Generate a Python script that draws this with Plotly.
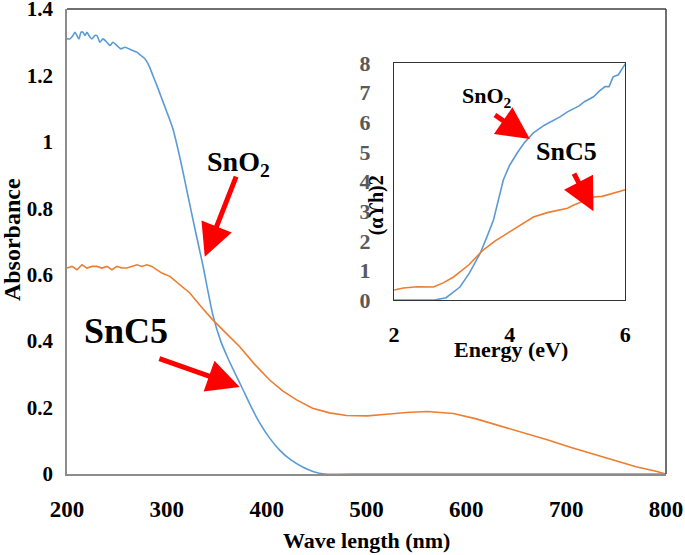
import plotly.graph_objects as go

# main panel: absorbance vs wavelength
sno2_wl = [200, 203, 206, 208, 210, 212, 214, 216, 218, 220, 222, 225, 228, 230,
           233, 236, 240, 243, 246, 250, 254, 258, 262, 266, 270, 274, 278, 282,
           286, 290, 295, 300, 306, 314, 321, 328, 336, 346, 354, 361, 368, 375,
           384, 393, 403, 413, 424, 436, 447, 458, 500, 600, 700, 800]
sno2_abs = [1.31, 1.31, 1.32, 1.33, 1.32, 1.31, 1.33, 1.33, 1.32, 1.33, 1.32, 1.31,
            1.32, 1.32, 1.30, 1.31, 1.30, 1.29, 1.30, 1.29, 1.28, 1.285, 1.28,
            1.275, 1.27, 1.26, 1.25, 1.23, 1.20, 1.17, 1.13, 1.09, 1.04, 0.94,
            0.84, 0.74, 0.63, 0.48, 0.40, 0.35, 0.305, 0.262, 0.205, 0.154, 0.108,
            0.072, 0.043, 0.021, 0.007, 0.0, 0.0, 0.0, 0.0, 0.0]

snc5_wl = [200, 205, 210, 215, 220, 225, 230, 235, 240, 245, 250, 255, 260, 265,
           270, 275, 280, 285, 290, 295, 303, 313, 323, 334, 346, 359, 373, 388,
           403, 416, 430, 446, 463, 480, 501, 520, 540, 561, 587, 610, 634, 657,
           681, 705, 725, 747, 770, 790, 800]
snc5_abs = [0.62, 0.625, 0.615, 0.63, 0.62, 0.625, 0.625, 0.62, 0.625, 0.615,
            0.625, 0.62, 0.62, 0.625, 0.63, 0.625, 0.63, 0.625, 0.615, 0.605,
            0.595, 0.57, 0.545, 0.505, 0.464, 0.425, 0.383, 0.33, 0.283, 0.25,
            0.223, 0.198, 0.184, 0.176, 0.175, 0.18, 0.185, 0.188, 0.182, 0.166,
            0.145, 0.125, 0.103, 0.08, 0.062, 0.042, 0.022, 0.008, 0.0]

# inset: Tauc plot
sno2_e = [2.0, 2.4, 2.7, 2.9, 3.14, 3.3, 3.49, 3.6, 3.72, 3.89, 4.0, 4.13, 4.25,
          4.41, 4.6, 4.87, 5.0, 5.1, 5.2, 5.3, 5.45, 5.55, 5.65, 5.72, 5.79,
          5.88, 5.95, 6.0]
sno2_tauc = [0.0, 0.0, 0.0, 0.08, 0.44, 0.9, 1.58, 2.1, 2.7, 4.05, 4.55, 4.96,
             5.3, 5.64, 5.9, 6.18, 6.35, 6.45, 6.55, 6.7, 6.86, 7.05, 7.2, 7.2,
             7.53, 7.6, 7.8, 7.97]

snc5_e = [2.0, 2.16, 2.4, 2.68, 2.85, 3.03, 3.3, 3.54, 3.75, 3.96, 4.2, 4.41,
          4.65, 4.87, 5.0, 5.1, 5.3, 5.45, 5.6, 5.7, 5.85, 6.0]
snc5_tauc = [0.34, 0.41, 0.45, 0.44, 0.58, 0.78, 1.2, 1.69, 2.0, 2.26, 2.55,
             2.8, 2.95, 3.04, 3.1, 3.2, 3.35, 3.48, 3.5, 3.55, 3.62, 3.72]

BLUE = "#5B9BD5"
ORANGE = "#ED7D31"
SERIF = "Liberation Serif, Times New Roman, serif"

fig = go.Figure()
fig.add_trace(go.Scatter(x=sno2_wl, y=sno2_abs, mode="lines",
                         line=dict(color=BLUE, width=1.6, shape="spline", smoothing=0.6)))
fig.add_trace(go.Scatter(x=snc5_wl, y=snc5_abs, mode="lines",
                         line=dict(color=ORANGE, width=1.6)))
fig.add_trace(go.Scatter(x=sno2_e, y=sno2_tauc, mode="lines", xaxis="x2", yaxis="y2",
                         line=dict(color=BLUE, width=1.6)))
fig.add_trace(go.Scatter(x=snc5_e, y=snc5_tauc, mode="lines", xaxis="x2", yaxis="y2",
                         line=dict(color=ORANGE, width=1.6)))

bold = dict(family=SERIF, weight="bold", color="black")
axis_common = dict(showgrid=False, zeroline=False, showline=True, ticks="",
                   automargin=False, ticklabeloverflow="allow")

fig.update_layout(
    width=685, height=555, showlegend=False,
    margin=dict(l=67, r=19, t=9, b=81),
    paper_bgcolor="white", plot_bgcolor="white",
    xaxis=dict(range=[200, 800], tickvals=[200, 300, 400, 500, 600, 700, 800],
               linecolor="#8c8c8c", linewidth=1.5, ticklabelstandoff=14,
               tickfont=dict(size=23, **bold), **axis_common),
    yaxis=dict(range=[0, 1.4], tickvals=[0, 0.2, 0.4, 0.6, 0.8, 1, 1.2, 1.4],
               ticktext=["0", "0.2", "0.4", "0.6", "0.8", "1", "1.2", "1.4"],
               linecolor="#8c8c8c", linewidth=1.5, ticklabelstandoff=8,
               tickfont=dict(size=21, **bold), **axis_common),
    xaxis2=dict(domain=[0.546, 0.932], anchor="y2", range=[2, 6], tickvals=[2, 4, 6],
                mirror=True, linecolor="#333333", linewidth=1.3, ticklabelstandoff=14,
                tickfont=dict(size=22, **bold), **axis_common),
    yaxis2=dict(domain=[0.374, 0.884], anchor="x2", range=[0, 8], dtick=1,
                mirror=True, linecolor="#333333", linewidth=1.3, ticklabelstandoff=18,
                tickfont=dict(size=22, family=SERIF, weight="bold", color="#595959"),
                **axis_common),
    shapes=[
        dict(type="line", xref="paper", yref="paper", x0=0, x1=1, y0=1, y1=1,
             line=dict(color="#404040", width=1.5)),
        dict(type="line", xref="paper", yref="paper", x0=1, x1=1, y0=0, y1=1,
             line=dict(color="#404040", width=1.5)),
    ],
)

def label(text, x, y, size, xref="x", yref="y", angle=0):
    fig.add_annotation(text=text, x=x, y=y, xref=xref, yref=yref, showarrow=False,
                       xanchor="center", yanchor="middle", textangle=angle,
                       font=dict(size=size, **bold))

def arrow(x0, y0, x1, y1, xref="x", yref="y"):
    fig.add_annotation(text="", x=x1, y=y1, ax=x0, ay=y0, xref=xref, yref=yref,
                       axref=xref, ayref=yref, showarrow=True, arrowhead=2,
                       arrowsize=1.3, arrowwidth=5, arrowcolor="#FF0000", standoff=0)

# main panel labels and arrows
label("SnO<sub>2</sub>", 372, 0.935, 28)
arrow(370, 0.90, 338, 0.654)
label("SnC5", 259, 0.431, 36)
arrow(291, 0.349, 373, 0.262)

# inset labels and arrows
label("SnO<sub>2</sub>", 3.61, 6.86, 22, "x2", "y2")
arrow(3.72, 6.28, 4.35, 5.43, "x2", "y2")
label("SnC5", 4.99, 5.0, 26, "x2", "y2")
arrow(5.10, 4.32, 5.45, 3.0, "x2", "y2")

# axis titles
label("Wave length (nm)", 0.5, -0.142, 22, "paper", "paper")
label("Absorbance", -0.092, 0.505, 24, "paper", "paper", angle=-90)
label("Energy (eV)", 0.741, 0.267, 22, "paper", "paper")
label("(αϒh)2", 0.516, 0.578, 20, "paper", "paper", angle=-90)

# the page's default body margin would shift the 685x555 figure by 8px
fig.write_html("out.html", config={"displayModeBar": False},
               post_script="document.body.style.margin = '0';")
